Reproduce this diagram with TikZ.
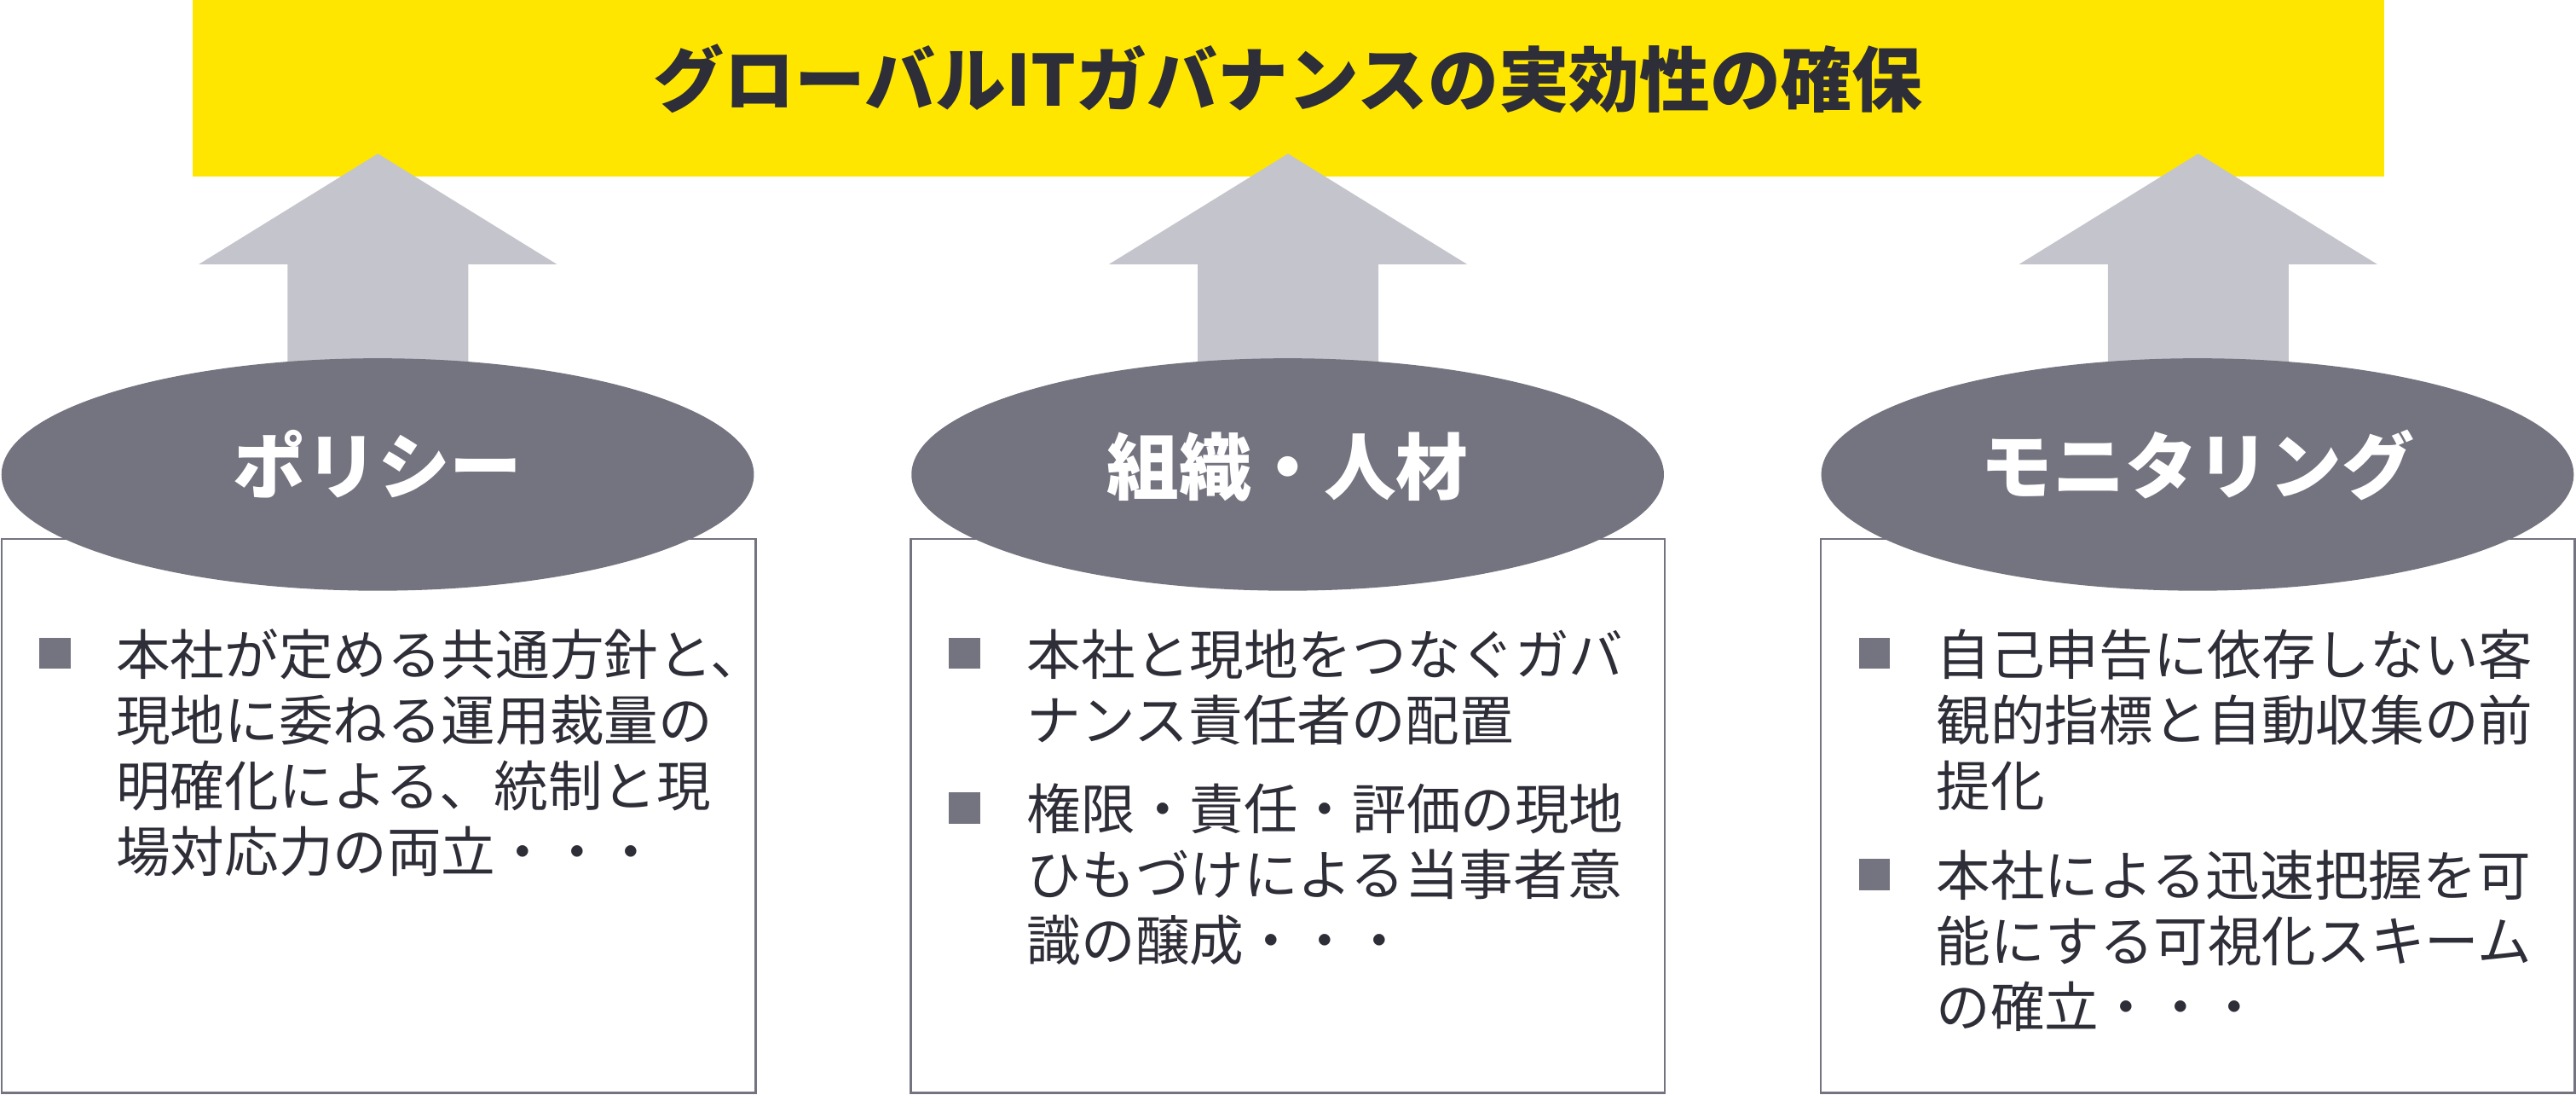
\documentclass[tikz,border=0pt]{standalone}
\usepackage{fontspec}
\setmainfont{Noto Sans CJK JP}
\usetikzlibrary{shapes.geometric}
\definecolor{eyyellow}{HTML}{FFE600}
\definecolor{eydark}{HTML}{2E2E38}
\definecolor{eygray}{HTML}{747480}
\definecolor{eylight}{HTML}{C4C4CC}
\tikzset{
  goalbox/.style={fill=eyyellow, inner sep=0, minimum width=1334pt, minimum height=107pt, anchor=north west},
  titletext/.style={anchor=base, inner sep=0, text=eydark, font=\fontsize{43}{50}\selectfont\bfseries},
  uparrow/.style={fill=eylight, draw=none},
  panel/.style={draw=eygray, line width=1.3pt, fill=white, inner sep=0, minimum width=459pt, minimum height=337pt},
  pillar/.style={ellipse, fill=eygray, draw=none, inner sep=0, minimum width=458pt, minimum height=141.4pt},
  pillartext/.style={anchor=base, inner sep=0, text=white, font=\fontsize{44}{50}\selectfont\bfseries},
  body/.style={anchor=base west, inner sep=0, text=eydark, font=\fontsize{33}{40}\selectfont},
  bul/.style={fill=eygray, draw=none, inner sep=0, minimum size=19pt}
}
\begin{document}
\begin{tikzpicture}[x=1pt,y=-1pt]
\useasboundingbox (0,0) rectangle (1568,666);
% goal banner
\node[goalbox] (goal) at (117,0) {};
\node[titletext] (title) at (784,64.8) {グローバルITガバナンスの実効性の確保};
% arrows
\foreach \cx/\nm in {230/a1, 784/a2, 1338/a3} {
  \coordinate (\nm) at (\cx,93.5);
  \fill[uparrow] (\nm) -- ++(109,67.3) -- ++(-54,0) -- ++(0,80) -- ++(-110,0) -- ++(0,-80) -- ++(-54,0) -- cycle;
}
% panels
\node[panel] (b1) at (230.5,496.4) {};
\node[panel] (b2) at (783.8,496.4) {};
\node[panel] (b3) at (1337.8,496.4) {};
% pillars
\node[pillar] (e1) at (229.9,288.7) {};
\node[pillar] (e2) at (783.8,288.7) {};
\node[pillar] (e3) at (1337.6,288.7) {};
\node[pillartext] (t1) at (229.9,300) {ポリシー};
\node[pillartext] (t2) at (783.8,300.5) {組織・人材};
\node[pillartext] (t3) at (1337.6,300) {モニタリング};
% left panel text
\node[bul] (q1) at (33.5,397.5) {};
\node[body] (l1) at (70.5,410.5) {本社が定める共通方針と、};
\node[body] (l2) at (70.5,450.5) {現地に委ねる運用裁量の};
\node[body] (l3) at (70.5,490.5) {明確化による、統制と現};
\node[body] (l4) at (70.5,530.5) {場対応力の両立・・・};
% middle panel text
\node[bul] (q2) at (587.1,397.5) {};
\node[body] (m1) at (625,410.5) {本社と現地をつなぐガバ};
\node[body] (m2) at (625,450.5) {ナンス責任者の配置};
\node[bul] (q3) at (587.1,491.5) {};
\node[body] (m3) at (625,504.5) {権限・責任・評価の現地};
\node[body] (m4) at (625,544.5) {ひもづけによる当事者意};
\node[body] (m5) at (625,584.5) {識の醸成・・・};
% right panel text
\node[bul] (q4) at (1141,397.5) {};
\node[body] (r1) at (1178.5,410.5) {自己申告に依存しない客};
\node[body] (r2) at (1178.5,450.5) {観的指標と自動収集の前};
\node[body] (r3) at (1178.5,490.5) {提化};
\node[bul] (q5) at (1141,532) {};
\node[body] (r4) at (1178.5,545) {本社による迅速把握を可};
\node[body] (r5) at (1178.5,585) {能にする可視化スキーム};
\node[body] (r6) at (1178.5,625) {の確立・・・};
\end{tikzpicture}
\end{document}
